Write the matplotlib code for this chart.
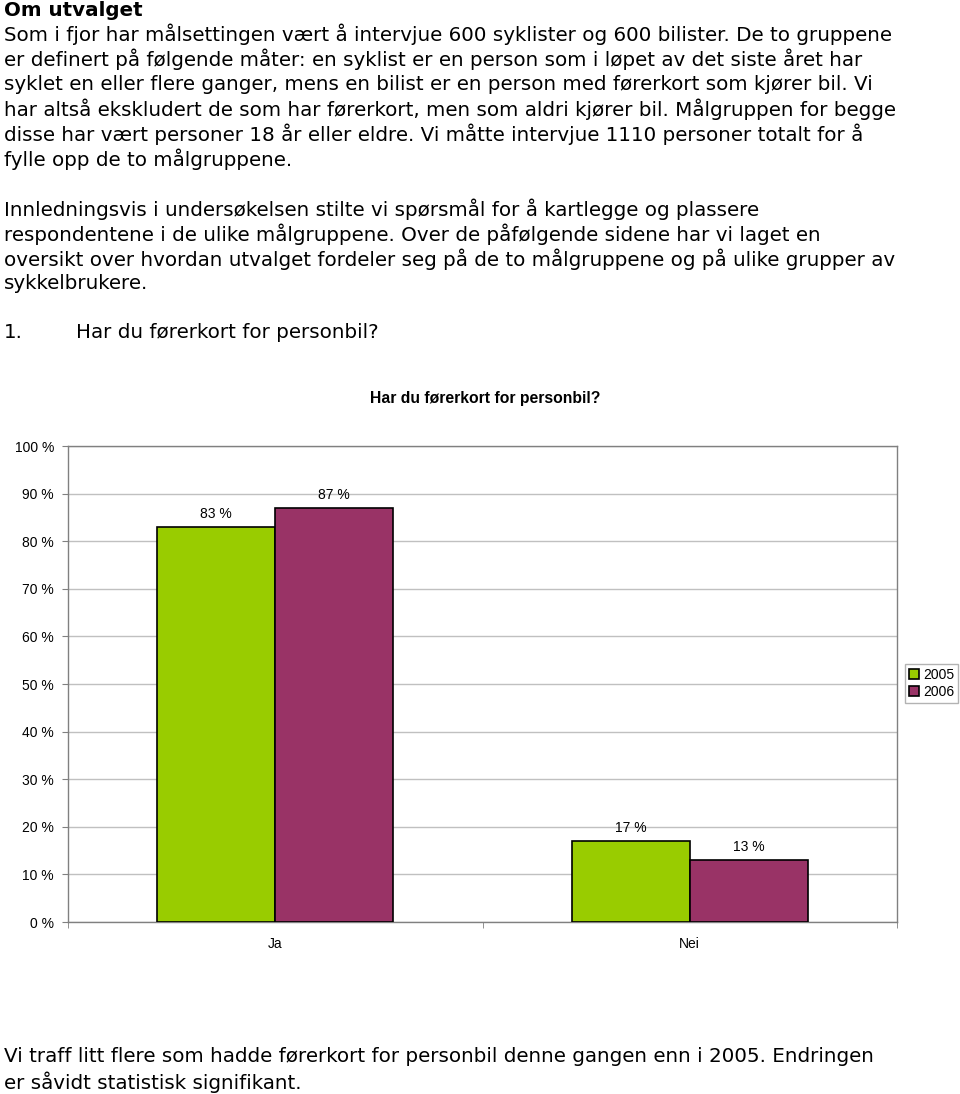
import matplotlib.pyplot as plt
import numpy as np

# chart data
categories = ['Ja', 'Nei']
years = ['2005', '2006']
values_2005 = [83, 17]
values_2006 = [87, 13]
colors = ['#99cc00', '#993366']

chart_title = 'Har du førerkort for personbil?'

heading = 'Om utvalget'
intro_lines = [
    'Som i fjor har målsettingen vært å intervjue 600 syklister og 600 bilister. De to gruppene',
    'er definert på følgende måter: en syklist er en person som i løpet av det siste året har',
    'syklet en eller flere ganger, mens en bilist er en person med førerkort som kjører bil. Vi',
    'har altså ekskludert de som har førerkort, men som aldri kjører bil. Målgruppen for begge',
    'disse har vært personer 18 år eller eldre. Vi måtte intervjue 1110 personer totalt for å',
    'fylle opp de to målgruppene.',
]
second_lines = [
    'Innledningsvis i undersøkelsen stilte vi spørsmål for å kartlegge og plassere',
    'respondentene i de ulike målgruppene. Over de påfølgende sidene har vi laget en',
    'oversikt over hvordan utvalget fordeler seg på de to målgruppene og på ulike grupper av',
    'sykkelbrukere.',
]
question = 'Har du førerkort for personbil?'
closing_lines = [
    'Vi traff litt flere som hadde førerkort for personbil denne gangen enn i 2005. Endringen',
    'er såvidt statistisk signifikant.',
]

W, H = 960, 1094
fig = plt.figure(figsize=(W / 100, H / 100), dpi=100)


def fy(px):
    return 1 - px / H


body = dict(family='DejaVu Sans', fontsize=14.3, va='center', ha='left', color='black')
fig.text(4 / W, fy(10), heading, fontweight='bold', **body)
for i, line in enumerate(intro_lines):
    fig.text(4 / W, fy(34 + 25 * i), line, **body)
for i, line in enumerate(second_lines):
    fig.text(4 / W, fy(209 + 25 * i), line, **body)
fig.text(4 / W, fy(333), '1.', **body)
fig.text(76 / W, fy(333), question, **body)
for i, line in enumerate(closing_lines):
    fig.text(4 / W, fy(1057 + 25 * i), line, **body)

# chart
left, right, top, bottom = 68, 897, 446, 922
ax = fig.add_axes([left / W, fy(bottom), (right - left) / W, (bottom - top) / H])

x = np.arange(len(categories))
bw = 0.285
bars_a = ax.bar(x - bw / 2, values_2005, bw, color=colors[0], edgecolor='black', linewidth=1.2,
                label=years[0], zorder=3)
bars_b = ax.bar(x + bw / 2, values_2006, bw, color=colors[1], edgecolor='black', linewidth=1.2,
                label=years[1], zorder=3)

chart_font = dict(family='Liberation Sans', fontsize=10)
for bars, vals in ((bars_a, values_2005), (bars_b, values_2006)):
    for b, v in zip(bars, vals):
        ax.annotate(f'{v} %', (b.get_x() + b.get_width() / 2, v), xytext=(0, 4.5),
                    textcoords='offset points', ha='center', va='bottom', **chart_font)

ax.set_xlim(-0.5, len(categories) - 0.5)
ax.set_ylim(0, 100)
ax.set_yticks(range(0, 101, 10))
ax.set_yticklabels([f'{t} %' for t in range(0, 101, 10)], **chart_font)
ax.set_xticks(x)
ax.set_xticklabels(categories, **chart_font)
ax.set_xticks(np.arange(-0.5, len(categories)), minor=True)
ax.tick_params(axis='x', which='major', length=0, pad=11)
ax.tick_params(axis='x', which='minor', length=4, color='#808080')
ax.tick_params(axis='y', length=4, color='#808080', pad=6)
ax.grid(axis='y', color='#c0c0c0', linewidth=1, zorder=0)
for s in ax.spines.values():
    s.set_color('#808080')
    s.set_linewidth(1)

fig.text((left + right) / 2 / W + 0.003, fy(399), chart_title, ha='center', va='center',
         fontweight='bold', family='Liberation Sans', fontsize=11.3)

leg = fig.legend(loc='upper left', bbox_to_anchor=(905 / W, fy(664)), frameon=True,
                 fancybox=False, prop={'family': 'Liberation Sans', 'size': 10},
                 handlelength=0.7, handleheight=0.7, handletextpad=0.3,
                 borderpad=0.3, labelspacing=0.2, borderaxespad=0)
leg.get_frame().set_edgecolor('#a0a0a0')
leg.get_frame().set_linewidth(1)

fig.savefig('out.png', dpi=100)
